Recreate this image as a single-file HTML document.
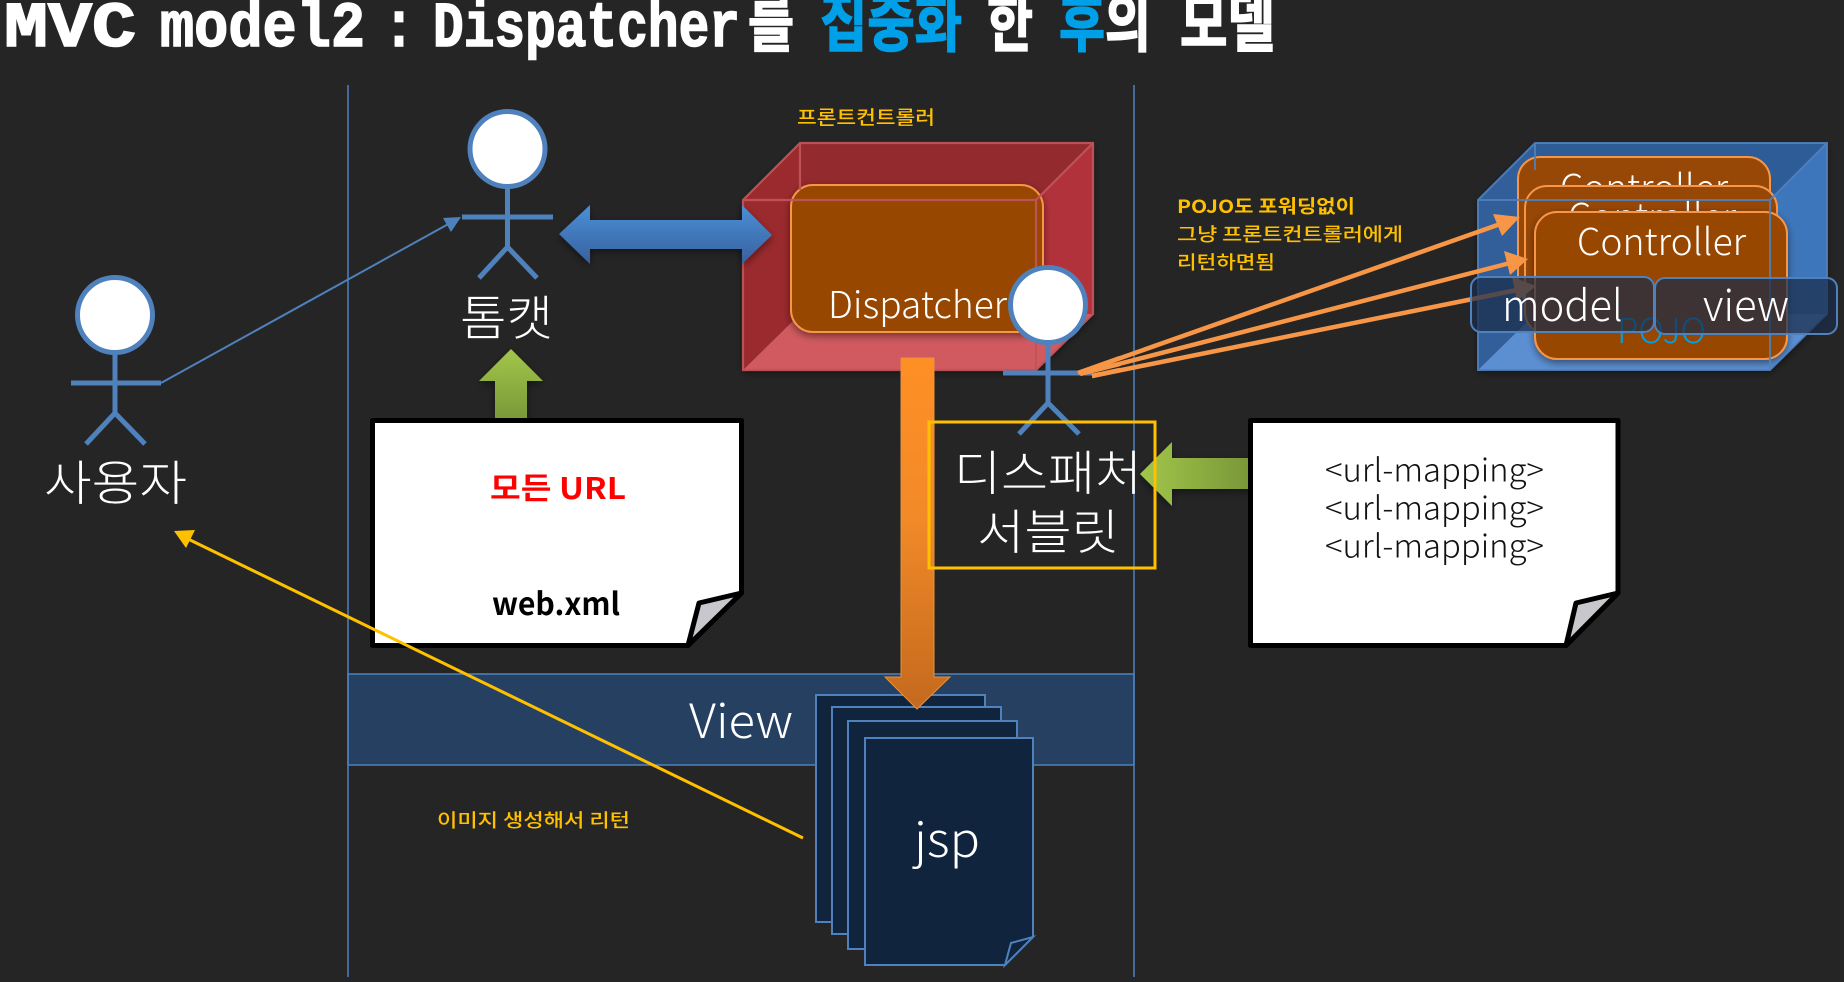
<!DOCTYPE html>
<html>
<head>
<meta charset="utf-8">
<style>
html,body{margin:0;padding:0;background:#252525;width:1844px;height:982px;overflow:hidden}
svg{display:block}
text{font-family:"Noto Sans CJK KR","Liberation Sans",sans-serif}
.t{font-family:"Liberation Mono","Noto Sans CJK KR",monospace;font-weight:700;font-size:64px;fill:#fff;stroke:#fff;stroke-width:1.6}
.b{fill:#00a0e9;stroke:#00a0e9}
.w{fill:#fff}
.l{font-weight:300}
.y{fill:#ffc000;font-weight:700}
.m{fill:#ffc000;font-weight:500}
</style>
</head>
<body>
<svg width="1844" height="982" viewBox="0 0 1844 982" xmlns="http://www.w3.org/2000/svg">
<defs>
<linearGradient id="gBlue" x1="0" y1="0" x2="0" y2="1"><stop offset="0" stop-color="#4a90d8"/><stop offset="1" stop-color="#38609c"/></linearGradient>
<linearGradient id="gGreenV" x1="0" y1="0" x2="0" y2="1"><stop offset="0" stop-color="#a2c64a"/><stop offset="1" stop-color="#789638"/></linearGradient>
<linearGradient id="gGreenH" x1="0" y1="0" x2="1" y2="0"><stop offset="0" stop-color="#a2c64a"/><stop offset="1" stop-color="#789638"/></linearGradient>
<linearGradient id="gOrange" x1="0" y1="0" x2="0" y2="1"><stop offset="0" stop-color="#ff8f25"/><stop offset=".45" stop-color="#f28a28"/><stop offset="1" stop-color="#c4691e"/></linearGradient>
<linearGradient id="gRedBack" x1="0" y1="0" x2="1" y2="1"><stop offset="0" stop-color="#8f2a2c"/><stop offset="1" stop-color="#b8333a"/></linearGradient>
<linearGradient id="gBlueBack" x1="0" y1="0" x2="1" y2="1"><stop offset="0" stop-color="#2f5d99"/><stop offset="1" stop-color="#3d76ba"/></linearGradient>
<filter id="sh" x="-10%" y="-10%" width="120%" height="125%"><feDropShadow dx="0" dy="3" stdDeviation="4" flood-color="#000" flood-opacity=".45"/></filter>
</defs>

<rect width="1844" height="982" fill="#252525"/>

<!-- title -->
<text class="t" x="4" y="46" textLength="132" lengthAdjust="spacingAndGlyphs">MVC</text>
<text class="t" x="160" y="46" textLength="205" lengthAdjust="spacingAndGlyphs">model2</text>
<text class="t" x="383" y="46" textLength="32" lengthAdjust="spacingAndGlyphs">:</text>
<text class="t" x="433" y="46" textLength="307" lengthAdjust="spacingAndGlyphs">Dispatcher</text>
<text class="t" x="748" y="46" textLength="46" lengthAdjust="spacingAndGlyphs">를</text>
<text class="t b" x="820" y="46" textLength="142" lengthAdjust="spacingAndGlyphs">집중화</text>
<text class="t" x="987" y="46" textLength="46" lengthAdjust="spacingAndGlyphs">한</text>
<text class="t b" x="1059" y="46" textLength="46" lengthAdjust="spacingAndGlyphs">후</text>
<text class="t" x="1105" y="46" textLength="46" lengthAdjust="spacingAndGlyphs">의</text>
<text class="t" x="1180" y="46" textLength="95" lengthAdjust="spacingAndGlyphs">모델</text>

<!-- view band -->
<rect x="348" y="674" width="786" height="91" fill="#254061" stroke="#4f81bd" stroke-width="1.5"/>
<!-- swimlane lines -->
<line x1="348" y1="85" x2="348" y2="977" stroke="#4f81bd" stroke-width="1.5"/>
<line x1="1134" y1="85" x2="1134" y2="977" stroke="#4f81bd" stroke-width="1.5"/>
<text class="w l" x="689" y="738" font-size="47" textLength="104" lengthAdjust="spacingAndGlyphs">View</text>

<!-- red box -->
<g filter="url(#sh)">
<polygon points="800,143 1093,143 1093,314 800,314" fill="url(#gRedBack)"/>
<polygon points="743,200 800,143 1093,143 1036,200" fill="#922a2d"/>
<polygon points="743,200 800,143 800,314 743,370" fill="#9a2b2e"/>
<polygon points="1036,200 1093,143 1093,314 1036,370" fill="#b2333a"/>
<polygon points="743,370 800,314 1093,314 1036,370" fill="#d05a5e"/>
</g>
<rect x="791" y="185" width="252" height="147" rx="22" fill="#974706" stroke="#f79646" stroke-width="2" filter="url(#sh)"/>
<g fill="none" stroke="#c0545a" stroke-width="2.2" opacity=".95">
<polygon points="743,200 800,143 1093,143 1093,314 1036,370 743,370"/>
<line x1="743" y1="200" x2="1036" y2="200"/>
<line x1="1036" y1="200" x2="1036" y2="370"/>
<line x1="1036" y1="200" x2="1093" y2="143"/>
<line x1="800" y1="143" x2="800" y2="190"/>
</g>
<text class="w l" x="828" y="318" font-size="37" textLength="179" lengthAdjust="spacingAndGlyphs">Dispatcher</text>

<!-- blue box -->
<g filter="url(#sh)">
<polygon points="1535,143 1827,143 1827,314 1535,314" fill="url(#gBlueBack)"/>
<polygon points="1478,200 1535,143 1827,143 1770,200" fill="#2f5c96"/>
<polygon points="1478,200 1535,143 1535,314 1478,370" fill="#335f99"/>
<polygon points="1770,200 1827,143 1827,314 1770,370" fill="#3d76ba"/>
<polygon points="1478,370 1535,314 1827,314 1770,370" fill="#5c8fd2"/>
</g>
<rect x="1518" y="157" width="252" height="148" rx="22" fill="#974706" stroke="#f79646" stroke-width="2"/>
<text class="w l" x="1560" y="201" font-size="37" textLength="168" lengthAdjust="spacingAndGlyphs">Controller</text>
<rect x="1525" y="186" width="252" height="148" rx="22" fill="#974706" stroke="#f79646" stroke-width="2"/>
<text class="w l" x="1568" y="230" font-size="37" textLength="168" lengthAdjust="spacingAndGlyphs">Controller</text>
<rect x="1535" y="212" width="252" height="147" rx="22" fill="#974706" stroke="#f79646" stroke-width="2" filter="url(#sh)"/>
<text class="w l" x="1577" y="255" font-size="37" textLength="169" lengthAdjust="spacingAndGlyphs">Controller</text>
<g fill="none" stroke="#4f81bd" stroke-width="2" opacity=".9">
<polygon points="1478,200 1535,143 1827,143 1827,314 1770,370 1478,370"/>
<line x1="1478" y1="200" x2="1770" y2="200"/>
<line x1="1770" y1="200" x2="1770" y2="370"/>
<line x1="1770" y1="200" x2="1827" y2="143"/>
<line x1="1535" y1="143" x2="1535" y2="170"/>
</g>
<text class="l" x="1617" y="343" font-size="34" fill="#00a0e9" textLength="89" lengthAdjust="spacingAndGlyphs">POJO</text>

<!-- orange arrows -->
<g stroke="#f79646" stroke-width="4.5" fill="#f79646">
<line x1="1078" y1="373" x2="1506" y2="222"/>
<polygon stroke="none" points="1520,217 1502,236 1493,214"/>
<line x1="1080" y1="374" x2="1514" y2="262"/>
<polygon stroke="none" points="1528,259 1510,275 1504,251"/>
<line x1="1092" y1="376" x2="1522" y2="289"/>
<polygon stroke="none" points="1536,286 1517,301 1512,277"/>
</g>

<!-- model / view -->
<rect x="1471" y="277" width="183" height="55" rx="10" fill="#1b2d4a" fill-opacity=".72" stroke="#4f81bd" stroke-width="2"/>
<rect x="1655" y="278" width="182" height="56" rx="10" fill="#1b2d4a" fill-opacity=".72" stroke="#4f81bd" stroke-width="2"/>
<text class="w l" x="1502" y="321" font-size="43" textLength="121" lengthAdjust="spacingAndGlyphs">model</text>
<text class="w l" x="1703" y="321" font-size="43" textLength="86" lengthAdjust="spacingAndGlyphs">view</text>

<!-- blue double arrow -->
<polygon points="559,234 590,205 590,220 742,220 742,205 772,235 742,264 742,249 590,249 590,264" fill="url(#gBlue)" filter="url(#sh)"/>

<!-- green up arrow -->
<polygon points="511,349 543,381 527,381 527,422 495,422 495,381 479,381" fill="url(#gGreenV)" filter="url(#sh)"/>

<!-- green left arrow -->
<polygon points="1140,474 1172,442 1172,458 1252,458 1252,489 1172,489 1172,506" fill="url(#gGreenH)" filter="url(#sh)"/>

<!-- docs -->
<path d="M372.5,420.5 H741.5 V593 L688,645.5 H372.5 Z" fill="#fff" stroke="#000" stroke-width="5" stroke-linejoin="round"/>
<polygon points="741.5,593 699,603 688,645.5" fill="#c8c8cc" stroke="#000" stroke-width="5" stroke-linejoin="round"/>
<text x="490" y="499" font-size="30" font-weight="700" fill="#ff0000" textLength="136" lengthAdjust="spacingAndGlyphs">모든 URL</text>
<text x="492" y="615" font-size="31" font-weight="700" fill="#000" textLength="128" lengthAdjust="spacingAndGlyphs">web.xml</text>

<path d="M1250.5,420.5 H1618 V593 L1566,645.5 H1250.5 Z" fill="#fff" stroke="#000" stroke-width="5" stroke-linejoin="round"/>
<polygon points="1618,593 1576,603 1566,645.5" fill="#c8c8cc" stroke="#000" stroke-width="5" stroke-linejoin="round"/>
<g class="l" font-size="32" fill="#111">
<text x="1325" y="481.5" textLength="219" lengthAdjust="spacingAndGlyphs">&lt;url-mapping&gt;</text>
<text x="1325" y="519.5" textLength="219" lengthAdjust="spacingAndGlyphs">&lt;url-mapping&gt;</text>
<text x="1325" y="557.5" textLength="219" lengthAdjust="spacingAndGlyphs">&lt;url-mapping&gt;</text>
</g>

<!-- jsp pages -->
<g fill="#10243e" stroke="#4f81bd" stroke-width="2">
<rect x="816" y="695" width="169" height="227"/>
<rect x="832" y="707" width="169" height="227"/>
<rect x="848" y="721" width="169" height="228"/>
<path d="M865,738 H1033 V937 L1005,965 H865 Z"/>
<polygon points="1033,937 1011,943 1005,965"/>
</g>
<text class="w l" x="914" y="857" font-size="48" textLength="66" lengthAdjust="spacingAndGlyphs">jsp</text>

<!-- orange down arrow -->
<polygon points="901,358 934,358 934,677 950,677 917,709 885,677 901,677" fill="url(#gOrange)" stroke="#e8923c" stroke-width="1"/>

<!-- actors -->
<g id="a1" fill="none" stroke="#4f81bd" stroke-width="5">
<circle cx="507.5" cy="149" r="37.5" fill="#fff"/>
<path d="M507.5,187V247M462,217H553M479,278L507.5,247L537,278"/>
</g>
<g fill="none" stroke="#4f81bd" stroke-width="5">
<circle cx="115" cy="315" r="37.5" fill="#fff"/>
<path d="M115,353V413M71,383H161M86,444L115,413L145,444"/>
</g>
<g fill="none" stroke="#4f81bd" stroke-width="5">
<circle cx="1048" cy="305" r="37.5" fill="#fff"/>
<path d="M1048,343V403M1003,373H1093M1019,434L1048,403L1079,434"/>
</g>
<!-- redraw orange starts over the actor arm -->
<g stroke="#f79646" stroke-width="4.5">
<line x1="1078" y1="373" x2="1120" y2="358"/>
<line x1="1080" y1="374" x2="1120" y2="364"/>
<line x1="1092" y1="376" x2="1120" y2="370"/>
</g>

<!-- user → tomcat -->
<line x1="161" y1="383" x2="452" y2="222" stroke="#4f81bd" stroke-width="2"/>
<polygon points="461,217 451,232 443,218" fill="#4f81bd"/>

<!-- yellow rect -->
<rect x="929" y="422" width="226" height="146" fill="none" stroke="#ffc000" stroke-width="3"/>

<!-- actor labels -->
<g class="w l" font-size="48" fill="#fff">
<text x="44" y="500" textLength="143" lengthAdjust="spacingAndGlyphs">사용자</text>
<text x="460" y="335" textLength="93" lengthAdjust="spacingAndGlyphs">톰캣</text>
<text x="954" y="490" textLength="188" lengthAdjust="spacingAndGlyphs">디스패처</text>
<text x="977" y="549" textLength="142" lengthAdjust="spacingAndGlyphs">서블릿</text>
</g>

<!-- yellow return line -->
<line x1="803" y1="838" x2="186" y2="538" stroke="#ffc000" stroke-width="3"/>
<polygon points="174,531 195,530 186,548" fill="#ffc000"/>

<!-- labels -->
<text class="m" x="797" y="124" font-size="19" textLength="138" lengthAdjust="spacingAndGlyphs">프론트컨트롤러</text>
<text class="y" x="1177" y="213" font-size="18.5" textLength="178" lengthAdjust="spacingAndGlyphs">POJO도 포워딩없이</text>
<text class="m" x="1177" y="241" font-size="18.5" textLength="226" lengthAdjust="spacingAndGlyphs">그냥 프론트컨트롤러에게</text>
<text class="m" x="1177" y="269" font-size="18.5" textLength="98" lengthAdjust="spacingAndGlyphs">리턴하면됨</text>
<text class="m" x="437" y="827" font-size="18.5" textLength="193" lengthAdjust="spacingAndGlyphs">이미지 생성해서 리턴</text>
</svg>
</body>
</html>
